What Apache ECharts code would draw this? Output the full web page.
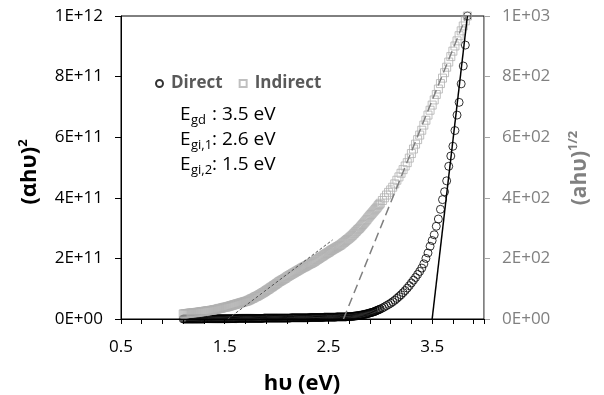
<!DOCTYPE html>
<html lang="en">
<head>
  <meta charset="UTF-8">
  <title>Tauc plot</title>
  <script src="https://cdn.jsdelivr.net/npm/echarts@6/dist/echarts.min.js"></script>
  <style>
    html, body { margin: 0; padding: 0; background: #fff; }
    #chart { width: 604px; height: 395px; }
  </style>
</head>
<body>
  <div id="chart"></div>
  <script>
    // photon energy (eV): 0.01 steps up to 3.00, 0.02 steps above
    var hv = [
      1.10, 1.11, 1.12, 1.13, 1.14, 1.15, 1.16, 1.17, 1.18, 1.19,
      1.20, 1.21, 1.22, 1.23, 1.24, 1.25, 1.26, 1.27, 1.28, 1.29,
      1.30, 1.31, 1.32, 1.33, 1.34, 1.35, 1.36, 1.37, 1.38, 1.39,
      1.40, 1.41, 1.42, 1.43, 1.44, 1.45, 1.46, 1.47, 1.48, 1.49,
      1.50, 1.51, 1.52, 1.53, 1.54, 1.55, 1.56, 1.57, 1.58, 1.59,
      1.60, 1.61, 1.62, 1.63, 1.64, 1.65, 1.66, 1.67, 1.68, 1.69,
      1.70, 1.71, 1.72, 1.73, 1.74, 1.75, 1.76, 1.77, 1.78, 1.79,
      1.80, 1.81, 1.82, 1.83, 1.84, 1.85, 1.86, 1.87, 1.88, 1.89,
      1.90, 1.91, 1.92, 1.93, 1.94, 1.95, 1.96, 1.97, 1.98, 1.99,
      2.00, 2.01, 2.02, 2.03, 2.04, 2.05, 2.06, 2.07, 2.08, 2.09,
      2.10, 2.11, 2.12, 2.13, 2.14, 2.15, 2.16, 2.17, 2.18, 2.19,
      2.20, 2.21, 2.22, 2.23, 2.24, 2.25, 2.26, 2.27, 2.28, 2.29,
      2.30, 2.31, 2.32, 2.33, 2.34, 2.35, 2.36, 2.37, 2.38, 2.39,
      2.40, 2.41, 2.42, 2.43, 2.44, 2.45, 2.46, 2.47, 2.48, 2.49,
      2.50, 2.51, 2.52, 2.53, 2.54, 2.55, 2.56, 2.57, 2.58, 2.59,
      2.60, 2.61, 2.62, 2.63, 2.64, 2.65, 2.66, 2.67, 2.68, 2.69,
      2.70, 2.71, 2.72, 2.73, 2.74, 2.75, 2.76, 2.77, 2.78, 2.79,
      2.80, 2.81, 2.82, 2.83, 2.84, 2.85, 2.86, 2.87, 2.88, 2.89,
      2.90, 2.91, 2.92, 2.93, 2.94, 2.95, 2.96, 2.97, 2.98, 2.99,
      3.00,
      3.02, 3.04, 3.06, 3.08, 3.10, 3.12, 3.14, 3.16, 3.18, 3.20,
      3.22, 3.24, 3.26, 3.28, 3.30, 3.32, 3.34, 3.36, 3.38, 3.40,
      3.42, 3.44, 3.46, 3.48, 3.50, 3.52, 3.54, 3.56, 3.58, 3.60,
      3.62, 3.64, 3.66, 3.68, 3.70, 3.72, 3.74, 3.76, 3.78, 3.80,
      3.82, 3.84
    ];
    // (αhυ)^2, in units of 1E+11
    var direct = [
      0, 0, 0, 0, 0, 0, 0, 0, 0, 0,
      0, 0, 0, 0, 0, 0, 0, 0, 0, 0,
      0, 0.01, 0.01, 0.01, 0.01, 0.01, 0.01, 0.01, 0.01, 0.01,
      0.01, 0.01, 0.01, 0.01, 0.01, 0.01, 0.01, 0.01, 0.01, 0.01,
      0.01, 0.01, 0.01, 0.01, 0.01, 0.01, 0.01, 0.01, 0.01, 0.01,
      0.01, 0.01, 0.02, 0.02, 0.02, 0.02, 0.02, 0.02, 0.02, 0.02,
      0.02, 0.02, 0.02, 0.02, 0.02, 0.02, 0.02, 0.02, 0.02, 0.02,
      0.02, 0.02, 0.02, 0.02, 0.02, 0.02, 0.02, 0.02, 0.03, 0.03,
      0.03, 0.03, 0.03, 0.03, 0.03, 0.03, 0.03, 0.03, 0.03, 0.03,
      0.03, 0.03, 0.03, 0.03, 0.03, 0.03, 0.03, 0.03, 0.03, 0.03,
      0.03, 0.03, 0.03, 0.03, 0.04, 0.04, 0.04, 0.04, 0.04, 0.04,
      0.04, 0.04, 0.04, 0.04, 0.04, 0.04, 0.04, 0.04, 0.04, 0.04,
      0.04, 0.04, 0.05, 0.05, 0.05, 0.05, 0.05, 0.05, 0.05, 0.05,
      0.05, 0.05, 0.05, 0.05, 0.05, 0.05, 0.06, 0.06, 0.06, 0.06,
      0.06, 0.06, 0.06, 0.06, 0.06, 0.06, 0.06, 0.06, 0.07, 0.07,
      0.07, 0.07, 0.07, 0.07, 0.07, 0.07, 0.07, 0.07, 0.08, 0.08,
      0.08, 0.08, 0.08, 0.085, 0.09, 0.095, 0.10, 0.105, 0.11, 0.115,
      0.12, 0.125, 0.13, 0.14, 0.15, 0.155, 0.16, 0.17, 0.18, 0.19,
      0.20, 0.21, 0.22, 0.23, 0.24, 0.255, 0.27, 0.285, 0.30, 0.315,
      0.33,
      0.36, 0.40, 0.44, 0.48, 0.52, 0.57, 0.62, 0.68, 0.74, 0.80,
      0.87, 0.94, 1.02, 1.10, 1.19, 1.28, 1.37, 1.47, 1.57, 1.68,
      1.82, 2.00, 2.18, 2.40, 2.59, 2.78, 3.06, 3.30, 3.62, 3.94,
      4.20, 4.56, 5.04, 5.38, 5.70, 6.22, 6.73, 7.15, 7.76, 8.35,
      9.04, 10.0
    ];
    // (ahυ)^1/2
    var indirect = [
      17, 17, 17, 18, 18, 19, 19, 20, 20, 20,
      21, 21, 21, 22, 22, 23, 23, 24, 24, 25,
      25, 26, 26, 27, 27, 28, 28, 29, 29, 30,
      31, 31, 32, 33, 34, 35, 35, 36, 37, 38,
      39, 39, 40, 41, 42, 43, 44, 45, 46, 47,
      48, 49, 50, 51, 52, 53, 54, 55, 56, 57,
      58, 59, 60, 62, 63, 65, 67, 68, 70, 72,
      74, 75, 77, 79, 81, 83, 85, 87, 89, 91,
      94, 96, 98, 100, 103, 105, 107, 110, 112, 114,
      117, 119, 122, 124, 126, 128, 130, 132, 134, 136,
      139, 141, 143, 145, 147, 149, 151, 153, 155, 157,
      159, 161, 163, 165, 167, 169, 171, 172, 174, 176,
      178, 180, 182, 183, 185, 187, 189, 191, 194, 196,
      198, 200, 203, 205, 207, 209, 212, 214, 216, 218,
      220, 222, 225, 227, 229, 231, 233, 235, 237, 239,
      241, 243, 245, 248, 251, 253, 256, 259, 262, 264,
      267, 270, 273, 276, 280, 283, 287, 290, 294, 297,
      300, 304, 308, 312, 316, 320, 324, 328, 333, 337,
      341, 345, 349, 353, 357, 361, 365, 369, 374, 378,
      382,
      391, 400, 409, 418, 426, 435, 446, 458, 469, 481,
      493, 505, 516, 531, 546, 561, 577, 592, 607, 623,
      640, 656, 673, 689, 706, 723, 741, 759, 777, 795,
      813, 831, 848, 866, 884, 901, 918, 935, 951, 967,
      984, 1000
    ];
    // fitted lines [hv, value]
    var directFit = [[3.50, 0], [3.84, 10]];
    var indirectFit1 = [[2.645, 0], [3.83, 1000]];
    var indirectFit2 = [[1.53, 0], [2.54, 261]];

    var xLabels = [0.5, 1.5, 2.5, 3.5];
    var gapLines = [
      { sub: 'gd', value: ': 3.5 eV' },
      { sub: 'gi,1', value: ': 2.6 eV' },
      { sub: 'gi,2', value: ': 1.5 eV' }
    ];

    var FONT = '"Open Sans", "Noto Sans", sans-serif';

    function pairs(xs, ys) {
      return xs.map(function (x, i) { return [x, ys[i]]; });
    }

    var graphics = [];
    gapLines.forEach(function (g, i) {
      var y = 117 + i * 25;
      graphics.push({ type: 'text', left: 180, top: y - 12,
        style: { text: 'E', font: '19px ' + FONT, fill: '#000' } });
      graphics.push({ type: 'text', left: 191, top: y - 3,
        style: { text: g.sub, font: '13px ' + FONT, fill: '#000' } });
      graphics.push({ type: 'text', left: 212, top: y - 12,
        style: { text: g.value, font: '19px ' + FONT, fill: '#000' } });
    });
    // axis titles
    graphics.push({
      type: 'text', x: 30, y: 172, rotation: Math.PI / 2,
      style: {
        text: '{a|(αhυ)}{b|2}', align: 'center', verticalAlign: 'middle',
        rich: {
          a: { font: 'bold 22px ' + FONT, fill: '#000', lineHeight: 26 },
          b: { font: 'bold 13px ' + FONT, fill: '#000', verticalAlign: 'top', lineHeight: 26 }
        }
      }
    });
    graphics.push({
      type: 'text', x: 580, y: 168, rotation: Math.PI / 2,
      style: {
        text: '{a|(ahυ)}{b|1/2}', align: 'center', verticalAlign: 'middle',
        rich: {
          a: { font: 'bold 21px ' + FONT, fill: '#808080', lineHeight: 26 },
          b: { font: 'bold 13px ' + FONT, fill: '#808080', verticalAlign: 'top', lineHeight: 26 }
        }
      }
    });
    graphics.push({
      type: 'text', x: 302, y: 384,
      style: { text: 'hυ (eV)', font: 'bold 22px ' + FONT, fill: '#000',
        align: 'center', verticalAlign: 'middle' }
    });

    var chart = echarts.init(document.getElementById('chart'));
    chart.setOption({
      animation: false,
      backgroundColor: '#fff',
      grid: { left: 121, right: 120, top: 16, bottom: 76, show: true,
        borderColor: '#000', borderWidth: 1, backgroundColor: 'transparent' },
      legend: {
        data: ['Direct', 'Indirect'],
        left: 150, top: 70,
        itemWidth: 7, itemHeight: 7, itemGap: 16,
        textStyle: { fontFamily: FONT, fontSize: 17, fontWeight: 'bold', color: '#595959',
          padding: [0, 0, 0, 3] }
      },
      xAxis: {
        type: 'value', min: 0.5, max: 4.0, interval: 0.2,
        axisLine: { lineStyle: { color: '#000', width: 1 } },
        axisTick: { show: true, length: 5, lineStyle: { color: '#000' } },
        splitLine: { show: false },
        axisLabel: {
          color: '#000', fontFamily: FONT, fontSize: 17, margin: 20,
          formatter: function (v) {
            for (var i = 0; i < xLabels.length; i++) {
              if (Math.abs(v - xLabels[i]) < 1e-6) return xLabels[i].toFixed(1);
            }
            return '';
          }
        }
      },
      yAxis: [
        {
          type: 'value', min: 0, max: 10, interval: 2, position: 'left',
          axisLine: { show: true, lineStyle: { color: '#000', width: 1 } },
          axisTick: { show: true, length: 6, lineStyle: { color: '#000' } },
          splitLine: { show: false },
          axisLabel: {
            color: '#000', fontFamily: FONT, fontSize: 17, margin: 18,
            formatter: function (v) {
              if (v === 0) return '0E+00';
              if (v === 10) return '1E+12';
              return v + 'E+11';
            }
          }
        },
        {
          type: 'value', min: 0, max: 1000, interval: 200, position: 'right',
          axisLine: { show: true, lineStyle: { color: '#a6a6a6', width: 1 } },
          axisTick: { show: true, length: 6, lineStyle: { color: '#a6a6a6' } },
          splitLine: { show: false },
          axisLabel: {
            color: '#808080', fontFamily: FONT, fontSize: 17, margin: 18,
            formatter: function (v) {
              if (v === 0) return '0E+00';
              if (v === 1000) return '1E+03';
              return (v / 100) + 'E+02';
            }
          }
        }
      ],
      series: [
        {
          name: 'Direct', type: 'scatter', yAxisIndex: 0, clip: false,
          symbol: 'circle', symbolSize: 8,
          itemStyle: { color: 'rgba(0,0,0,0)', borderColor: '#000', borderWidth: 1 },
          data: pairs(hv, direct)
        },
        {
          name: 'Indirect', type: 'scatter', yAxisIndex: 1, clip: false,
          symbol: 'rect', symbolSize: 8,
          itemStyle: { color: 'rgba(0,0,0,0)', borderColor: '#b0b0b0', borderWidth: 1 },
          data: pairs(hv, indirect)
        },
        {
          type: 'line', yAxisIndex: 0, symbol: 'none', silent: true,
          lineStyle: { color: '#000', width: 1.5 },
          data: directFit
        },
        {
          type: 'line', yAxisIndex: 1, symbol: 'none', silent: true,
          lineStyle: { color: '#7f7f7f', width: 1.5, type: [9, 5] },
          data: indirectFit1
        },
        {
          type: 'line', yAxisIndex: 1, symbol: 'none', silent: true,
          lineStyle: { color: '#555', width: 1, type: [3, 2] },
          data: indirectFit2
        }
      ],
      graphic: graphics
    });
  </script>
</body>
</html>
